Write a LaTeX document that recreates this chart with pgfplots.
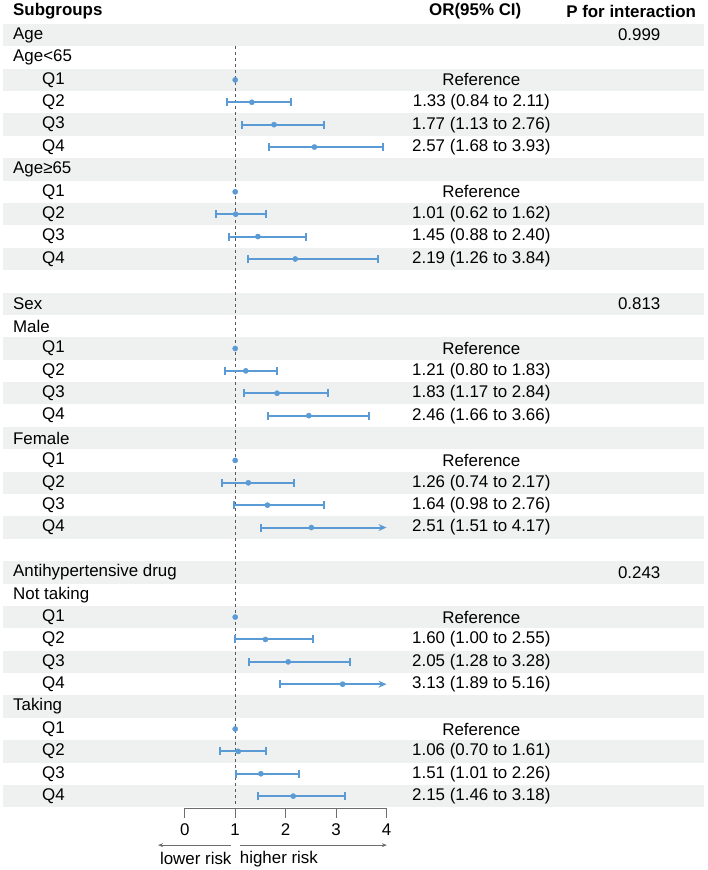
\documentclass[border=0pt]{standalone}
\usepackage{pgfplots}
\usepackage{pgfplotstable}
\pgfplotsset{compat=1.18}
\usepackage{fontspec}
\setmainfont{Liberation Sans}
\usetikzlibrary{arrows.meta}
\definecolor{bandgrey}{RGB}{239,241,241}
\definecolor{ciblue}{RGB}{91,155,213}
\definecolor{axgrey}{RGB}{110,110,110}
\newcommand\fs{\fontsize{17}{20}\selectfont}

% row est lo hi
\pgfplotstableread{
row est lo hi
3 1.33 0.84 2.11
4 1.77 1.13 2.76
5 2.57 1.68 3.93
8 1.01 0.62 1.62
9 1.45 0.88 2.40
10 2.19 1.26 3.84
15 1.21 0.80 1.83
16 1.83 1.17 2.84
17 2.46 1.66 3.66
20 1.26 0.74 2.17
21 1.64 0.98 2.76
27 1.60 1.00 2.55
28 2.05 1.28 3.28
32 1.06 0.70 1.61
33 1.51 1.01 2.26
34 2.15 1.46 3.18
}\cidata
% rows whose upper limit runs past the axis (drawn as arrows)
\pgfplotstableread{
row est lo hi
22 2.51 1.51 4.17
29 3.13 1.89 5.16
}\arrowdata
\pgfplotstableread{
row est
2 1
7 1
14 1
19 1
26 1
31 1
}\refdata

\newcommand\lab[2]{\node[anchor=west, inner sep=0pt] at (axis cs:-3.406,-#1) {#2};}
\newcommand\qlab[2]{\node[anchor=west, inner sep=0pt] at (axis cs:-2.832,-#1) {#2};}
\newcommand\ortx[2]{\node at (axis cs:5.88,-#1) {#2};}

\begin{document}
\begin{tikzpicture}[font=\fs]
\begin{axis}[
  scale only axis,
  width=202bp, height=785.2bp,
  xmin=0, xmax=4, ymin=-34.54, ymax=0.5,
  clip=false,
  axis x line*=bottom,
  axis y line=none,
  x axis line style={axgrey, line width=0.8pt, -},
  xtick={0,1,2,3,4},
  tick align=outside,
  major tick length=10bp,
  x tick style={axgrey, line width=0.8pt},
  /pgf/number format/assume math mode=true,
  xticklabel style={font=\fs, yshift=-2bp},
  ytick=\empty,
]
% background bands
\pgfplotsinvokeforeach{0,2,4,6,8,10,12,14,16,18,20,22,24,26,28,30,32,34}{
  \fill[bandgrey] (axis cs:-3.604,{-#1+0.5}) rectangle (axis cs:10.297,{-#1-0.5});
}
% bounding box of the whole figure
\path (axis cs:-3.663,1.517) rectangle (axis cs:10.356,-37.30);
% reference line
\addplot[axgrey!80!black, dashed, dash pattern=on 3bp off 3bp, line width=0.8pt] coordinates {(1,-0.5) (1,-34.45)};
% CIs
\addplot[only marks, mark=*, mark size=2.6bp, color=ciblue,
  error bars/.cd, x dir=both, x explicit,
  error bar style={line width=2bp, ciblue},
  error mark options={line width=2bp, mark size=4bp, ciblue, rotate=90}]
  table[x=est, y expr=-\thisrow{row},
        x error plus expr=\thisrow{hi}-\thisrow{est},
        x error minus expr=\thisrow{est}-\thisrow{lo}] {\cidata};
% arrow rows
\addplot[ciblue, line width=2bp, -{Stealth[length=8bp,width=7bp]}] coordinates {(1.51,-22) (4,-22)};
\addplot[ciblue, line width=2bp, -{Stealth[length=8bp,width=7bp]}] coordinates {(1.89,-29) (4,-29)};
\addplot[only marks, mark=|, mark size=4bp, mark options={line width=2bp}, color=ciblue]
  table[x=lo, y expr=-\thisrow{row}] {\arrowdata};
\addplot[only marks, mark=*, mark size=2.6bp, color=ciblue]
  table[x=est, y expr=-\thisrow{row}] {\arrowdata};
\addplot[only marks, mark=*, mark size=2.6bp, color=ciblue]
  table[x=est, y expr=-\thisrow{row}] {\refdata};

% headers
\node[anchor=west, inner sep=0pt, font=\fs\bfseries] at (axis cs:-3.406,1.07) {Subgroups};
\node[font=\fs\bfseries] at (axis cs:5.76,1.07) {OR(95\% CI)};
\node[font=\fs\bfseries] at (axis cs:8.85,1.07) {P for interaction};

% labels
\lab{0}{Age}
\lab{1}{Age<65}
\lab{6}{Age≥65}
\lab{12}{Sex}
\lab{13}{Male}
\lab{18}{Female}
\lab{24}{Antihypertensive drug}
\lab{25}{Not taking}
\lab{30}{Taking}
\qlab{2}{Q1}\qlab{3}{Q2}\qlab{4}{Q3}\qlab{5}{Q4}
\qlab{7}{Q1}\qlab{8}{Q2}\qlab{9}{Q3}\qlab{10}{Q4}
\qlab{14}{Q1}\qlab{15}{Q2}\qlab{16}{Q3}\qlab{17}{Q4}
\qlab{19}{Q1}\qlab{20}{Q2}\qlab{21}{Q3}\qlab{22}{Q4}
\qlab{26}{Q1}\qlab{27}{Q2}\qlab{28}{Q3}\qlab{29}{Q4}
\qlab{31}{Q1}\qlab{32}{Q2}\qlab{33}{Q3}\qlab{34}{Q4}
% OR text
\ortx{2}{Reference}
\ortx{3}{1.33 (0.84 to 2.11)}
\ortx{4}{1.77 (1.13 to 2.76)}
\ortx{5}{2.57 (1.68 to 3.93)}
\ortx{7}{Reference}
\ortx{8}{1.01 (0.62 to 1.62)}
\ortx{9}{1.45 (0.88 to 2.40)}
\ortx{10}{2.19 (1.26 to 3.84)}
\ortx{14}{Reference}
\ortx{15}{1.21 (0.80 to 1.83)}
\ortx{16}{1.83 (1.17 to 2.84)}
\ortx{17}{2.46 (1.66 to 3.66)}
\ortx{19}{Reference}
\ortx{20}{1.26 (0.74 to 2.17)}
\ortx{21}{1.64 (0.98 to 2.76)}
\ortx{22}{2.51 (1.51 to 4.17)}
\ortx{26}{Reference}
\ortx{27}{1.60 (1.00 to 2.55)}
\ortx{28}{2.05 (1.28 to 3.28)}
\ortx{29}{3.13 (1.89 to 5.16)}
\ortx{31}{Reference}
\ortx{32}{1.06 (0.70 to 1.61)}
\ortx{33}{1.51 (1.01 to 2.26)}
\ortx{34}{2.15 (1.46 to 3.18)}
% p values
\node at (axis cs:9.01,0) {0.999};
\node at (axis cs:9.01,-12) {0.813};
\node at (axis cs:9.01,-24) {0.243};

% risk arrows
\draw[axgrey, line width=0.7pt, -{Stealth[length=5bp,width=4bp]}] (axis cs:0.924,-36.19) -- (axis cs:-0.529,-36.19);
\draw[axgrey, line width=0.7pt, -{Stealth[length=5bp,width=4bp]}] (axis cs:1.089,-36.19) -- (axis cs:4.006,-36.19);
\node[anchor=east, inner sep=0pt] at (axis cs:0.93,-36.80) {lower risk};
\node[anchor=west, inner sep=0pt] at (axis cs:1.089,-36.80) {higher risk};
\end{axis}
\end{tikzpicture}
\end{document}
